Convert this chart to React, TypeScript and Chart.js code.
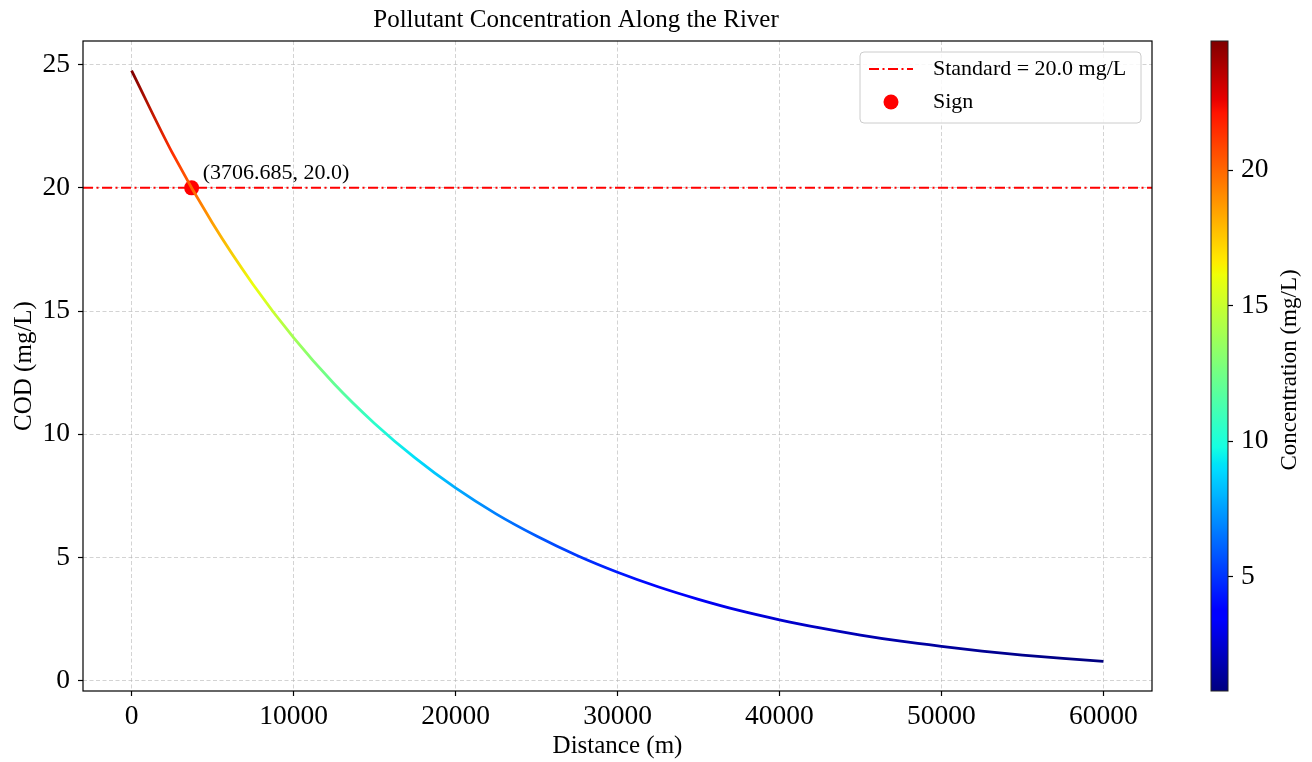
import React, { useEffect, useRef } from "react";
import { Chart, registerables } from "chart.js";

Chart.register(...registerables);

// ---------------- data ----------------
const DISTANCE = [
  0, 2500, 5000, 7500, 10000, 12500, 15000, 17500, 20000, 22500, 25000, 27500,
  30000, 32500, 35000, 37500, 40000, 42500, 45000, 47500, 50000, 52500, 55000,
  57500, 60000,
];
const COD = [
  24.76, 21.44, 18.56, 16.08, 13.92, 12.05, 10.44, 9.04, 7.82, 6.77, 5.87, 5.08,
  4.4, 3.81, 3.3, 2.85, 2.47, 2.14, 1.85, 1.6, 1.39, 1.2, 1.04, 0.9, 0.78,
];
const STANDARD = 20.0;
const SIGN_X = 3706.685;
const SIGN_Y = 20.0;
const X_TICKS = [0, 10000, 20000, 30000, 40000, 50000, 60000];
const Y_TICKS = [0, 5, 10, 15, 20, 25];
const CB_TICKS = [5, 10, 15, 20];
const X_LIMITS = [-3000, 63000];
const Y_LIMITS = [-0.42, 25.96];
const LEGEND_LABELS = ["Standard = 20.0 mg/L", "Sign"];

const TITLE = "Pollutant Concentration Along the River";
const X_LABEL = "Distance (m)";
const Y_LABEL = "COD (mg/L)";
const CB_LABEL = "Concentration (mg/L)";

const FONT = "'Liberation Serif', 'Times New Roman', serif";
const C_MIN = Math.min(...COD);
const C_MAX = Math.max(...COD);

// matplotlib jet colormap
const JET: Record<string, number[][]> = {
  r: [[0, 0], [0.35, 0], [0.66, 1], [0.89, 1], [1, 0.5]],
  g: [[0, 0], [0.125, 0], [0.375, 1], [0.64, 1], [0.91, 0], [1, 0]],
  b: [[0, 0.5], [0.11, 1], [0.34, 1], [0.65, 0], [1, 0]],
};
function seg(pts: number[][], t: number) {
  for (let i = 1; i < pts.length; i++) {
    if (t <= pts[i][0]) {
      const [x0, y0] = pts[i - 1];
      const [x1, y1] = pts[i];
      return y0 + ((t - x0) / (x1 - x0)) * (y1 - y0);
    }
  }
  return pts[pts.length - 1][1];
}
function jet(t: number) {
  const c = Math.max(0, Math.min(1, t));
  const r = Math.round(seg(JET.r, c) * 255);
  const g = Math.round(seg(JET.g, c) * 255);
  const b = Math.round(seg(JET.b, c) * 255);
  return `rgb(${r},${g},${b})`;
}
const norm = (v: number) => (v - C_MIN) / (C_MAX - C_MIN);

export default function App() {
  const mainRef = useRef<HTMLCanvasElement>(null);
  const cbRef = useRef<HTMLCanvasElement>(null);

  useEffect(() => {
    Chart.defaults.font.family = FONT;
    Chart.defaults.color = "#000";

    const framePlugin = {
      id: "frame",
      afterDraw(chart: any) {
        const { ctx, chartArea: a } = chart;
        ctx.save();
        ctx.strokeStyle = "#000";
        ctx.lineWidth = 1.2;
        ctx.strokeRect(a.left, a.top, a.right - a.left, a.bottom - a.top);
        ctx.restore();
      },
    };

    const annotPlugin = {
      id: "annot",
      afterDatasetsDraw(chart: any) {
        const { ctx, scales } = chart;
        const px = scales.x.getPixelForValue(SIGN_X);
        const py = scales.y.getPixelForValue(SIGN_Y);
        ctx.save();
        ctx.font = `22px ${FONT}`;
        ctx.fillStyle = "#000";
        ctx.textAlign = "left";
        ctx.textBaseline = "alphabetic";
        ctx.fillText(`(${SIGN_X}, ${SIGN_Y.toFixed(1)})`, px + 11, py - 9);
        ctx.restore();
      },
    };

    const legendPlugin = {
      id: "boxLegend",
      afterDraw(chart: any) {
        const { ctx, chartArea: a } = chart;
        const w = 281;
        const h = 71;
        const left = a.right - 11 - w;
        const top = a.top + 11;
        ctx.save();
        ctx.beginPath();
        ctx.roundRect(left, top, w, h, 4);
        ctx.fillStyle = "rgba(255,255,255,0.85)";
        ctx.fill();
        ctx.strokeStyle = "#cccccc";
        ctx.lineWidth = 1;
        ctx.stroke();
        // line sample
        const y1 = top + 17;
        ctx.beginPath();
        ctx.setLineDash([10, 3.5, 2, 3.5]);
        ctx.strokeStyle = "red";
        ctx.lineWidth = 2;
        ctx.moveTo(left + 9, y1);
        ctx.lineTo(left + 53, y1);
        ctx.stroke();
        ctx.setLineDash([]);
        // marker
        const y2 = top + 50;
        ctx.beginPath();
        ctx.arc(left + 31, y2, 7.5, 0, Math.PI * 2);
        ctx.fillStyle = "red";
        ctx.fill();
        ctx.fillStyle = "#000";
        ctx.font = `22px ${FONT}`;
        ctx.textAlign = "left";
        ctx.textBaseline = "middle";
        ctx.fillText(LEGEND_LABELS[0], left + 73, y1);
        ctx.fillText(LEGEND_LABELS[1], left + 73, y2);
        ctx.restore();
      },
    };

    const curveGradient = (c: any) => {
      const chart = c.chart;
      const xs = chart.scales?.x;
      if (!chart.chartArea || !xs) return jet(0.5);
      const x0 = xs.getPixelForValue(DISTANCE[0]);
      const x1 = xs.getPixelForValue(DISTANCE[DISTANCE.length - 1]);
      const g = chart.ctx.createLinearGradient(x0, 0, x1, 0);
      DISTANCE.forEach((d, i) => {
        const off = (xs.getPixelForValue(d) - x0) / (x1 - x0);
        g.addColorStop(Math.max(0, Math.min(1, off)), jet(norm(COD[i])));
      });
      return g;
    };

    const gridCommon = {
      color: "rgba(176,176,176,0.7)",
      lineWidth: 0.8,
      tickColor: "#000",
      tickLength: 5,
      tickWidth: 1.2,
      tickBorderDash: [],
    };

    const main = new Chart(mainRef.current!, {
      type: "scatter",
      data: {
        datasets: [
          {
            label: "curve",
            data: DISTANCE.map((d, i) => ({ x: d, y: COD[i] })),
            showLine: true,
            pointRadius: 0,
            borderWidth: 2.8,
            borderColor: curveGradient,
            cubicInterpolationMode: "monotone",
          } as any,
          {
            label: LEGEND_LABELS[0],
            data: [
              { x: X_LIMITS[0], y: STANDARD },
              { x: X_LIMITS[1], y: STANDARD },
            ],
            showLine: true,
            pointRadius: 0,
            borderWidth: 2,
            borderColor: "red",
            borderDash: [10, 3.5, 2, 3.5],
          },
          {
            label: LEGEND_LABELS[1],
            data: [{ x: SIGN_X, y: SIGN_Y }],
            pointRadius: 7.5,
            pointBackgroundColor: "red",
            pointBorderWidth: 0,
            borderColor: "red",
          },
        ],
      },
      options: {
        animation: false,
        responsive: false,
        devicePixelRatio: 1,
        layout: { padding: { left: 0, right: 38, top: 0, bottom: 0 } },
        plugins: {
          legend: { display: false },
          tooltip: { enabled: false },
          title: {
            display: true,
            text: TITLE,
            color: "#000",
            font: { size: 25, weight: "normal", family: FONT },
            padding: { top: 5, bottom: 6 },
          },
        },
        scales: {
          x: {
            type: "linear",
            min: X_LIMITS[0],
            max: X_LIMITS[1],
            afterBuildTicks: (s: any) => {
              s.ticks = X_TICKS.map((v) => ({ value: v }));
            },
            afterFit: (s: any) => {
              s.height = 71;
            },
            ticks: {
              font: { size: 27.5, family: FONT },
              color: "#000",
              padding: 4,
              maxRotation: 0,
              autoSkip: false,
              callback: (v: any) => String(v),
            },
            grid: gridCommon,
            border: { display: false, dash: [4, 2.5] },
            title: {
              display: true,
              text: X_LABEL,
              color: "#000",
              font: { size: 25, family: FONT },
              padding: { top: 0, bottom: 1 },
            },
          },
          y: {
            type: "linear",
            min: Y_LIMITS[0],
            max: Y_LIMITS[1],
            afterBuildTicks: (s: any) => {
              s.ticks = Y_TICKS.map((v) => ({ value: v }));
            },
            afterFit: (s: any) => {
              s.width = 83;
            },
            ticks: {
              font: { size: 27.5, family: FONT },
              color: "#000",
              padding: 8,
              autoSkip: false,
              callback: (v: any) => String(v),
            },
            grid: gridCommon,
            border: { display: false, dash: [4, 2.5] },
            title: {
              display: true,
              text: Y_LABEL,
              color: "#000",
              font: { size: 25, family: FONT },
              padding: { top: 9, bottom: 0 },
            },
          },
        },
      } as any,
      plugins: [framePlugin, annotPlugin, legendPlugin],
    });

    const cbPlugin = {
      id: "cbar",
      beforeDatasetsDraw(chart: any) {
        const { ctx, chartArea: a, scales } = chart;
        const yTop = scales.y.getPixelForValue(C_MAX);
        const yBot = scales.y.getPixelForValue(C_MIN);
        const g = ctx.createLinearGradient(0, yBot, 0, yTop);
        for (let i = 0; i <= 200; i++) {
          const t = i / 200;
          g.addColorStop(t, jet(t));
        }
        ctx.save();
        ctx.fillStyle = g;
        ctx.fillRect(a.left, yTop, a.right - a.left, yBot - yTop);
        ctx.strokeStyle = "#222";
        ctx.lineWidth = 1;
        ctx.strokeRect(a.left, a.top, a.right - a.left, a.bottom - a.top);
        ctx.restore();
      },
      afterDraw(chart: any) {
        const { ctx, chartArea: a } = chart;
        ctx.save();
        ctx.translate(100, (a.top + a.bottom) / 2 + 4);
        ctx.rotate(-Math.PI / 2);
        ctx.font = `23px ${FONT}`;
        ctx.fillStyle = "#000";
        ctx.textAlign = "center";
        ctx.textBaseline = "middle";
        ctx.fillText(CB_LABEL, 0, 0);
        ctx.restore();
      },
    };

    const cb = new Chart(cbRef.current!, {
      type: "scatter",
      data: { datasets: [{ data: [] }] },
      options: {
        animation: false,
        responsive: false,
        devicePixelRatio: 1,
        layout: { padding: { left: 21, right: 0, top: 41, bottom: 71 } },
        plugins: { legend: { display: false }, tooltip: { enabled: false } },
        scales: {
          x: { display: false, min: 0, max: 1 },
          y: {
            position: "right",
            min: C_MIN,
            max: C_MAX,
            afterBuildTicks: (s: any) => {
              s.ticks = CB_TICKS.map((v) => ({ value: v }));
            },
            afterFit: (s: any) => {
              s.width = 84;
            },
            ticks: {
              font: { size: 27.5, family: FONT },
              color: "#000",
              padding: 8,
              autoSkip: false,
              callback: (v: any) => String(v),
            },
            grid: {
              drawOnChartArea: false,
              tickColor: "#000",
              tickLength: 5,
              tickWidth: 1.2,
            },
            border: { display: false },
          },
        },
      } as any,
      plugins: [cbPlugin],
    });

    return () => {
      main.destroy();
      cb.destroy();
    };
  }, []);

  return (
    <div
      style={{
        position: "absolute",
        left: 0,
        top: 0,
        width: 1312,
        height: 762,
        background: "#fff",
      }}
    >
      <canvas
        ref={mainRef}
        width={1190}
        height={762}
        style={{ position: "absolute", left: 0, top: 0, width: 1190, height: 762 }}
      />
      <canvas
        ref={cbRef}
        width={122}
        height={762}
        style={{ position: "absolute", left: 1190, top: 0, width: 122, height: 762 }}
      />
    </div>
  );
}
